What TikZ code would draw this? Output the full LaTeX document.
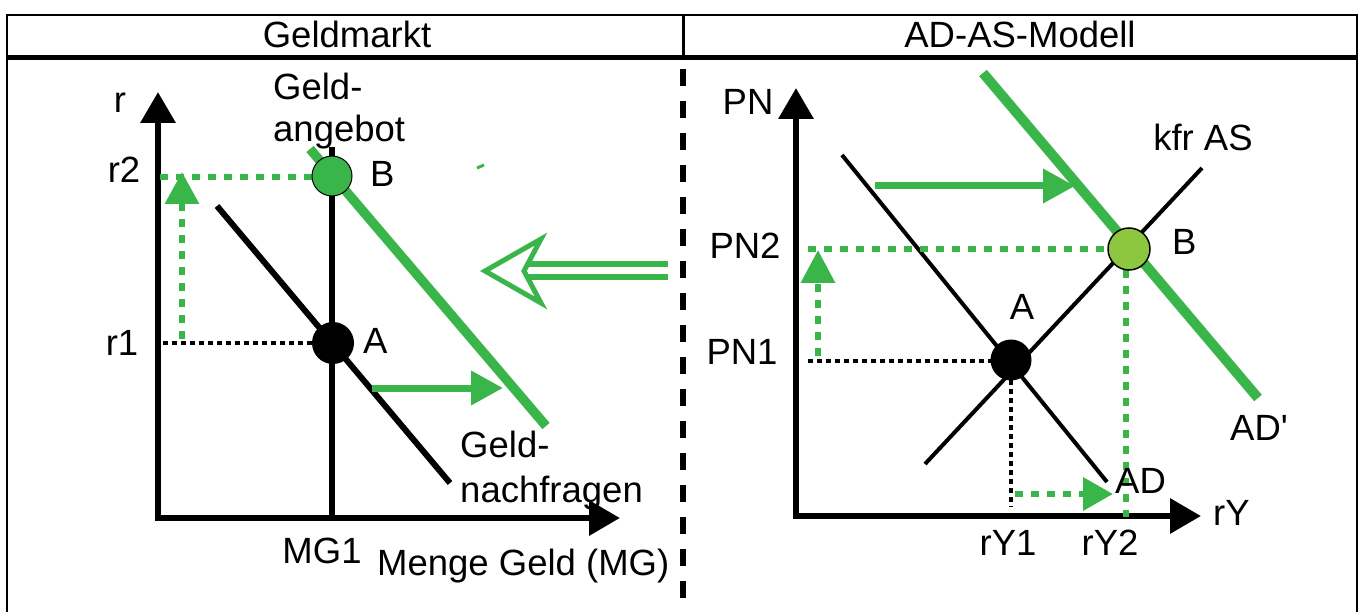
\documentclass[tikz,border=0pt]{standalone}
\usepackage{fontspec}
\setmainfont{Liberation Sans}
\newfontfamily\plainfont{Liberation Sans}
\usetikzlibrary{arrows.meta}
\definecolor{grn}{HTML}{39B54A}
\definecolor{lgrn}{HTML}{8DC63F}
\tikzset{
  lbl/.style={inner sep=0pt, font=\fontsize{36.5}{43}\selectfont},
  axis/.style={line width=6.5pt, -{Triangle[length=31pt,width=34pt]}},
  thickblk/.style={line width=6pt},
  thinblk/.style={line width=4pt},
  grnthick/.style={grn, line width=9.5pt},
  grnarrow/.style={grn, line width=7pt, -{Triangle[length=32pt,width=33pt]}},
  grndash/.style={grn, line width=6.5pt, dash pattern=on 8pt off 8pt},
  blkdot/.style={line width=3.5pt, dash pattern=on 5pt off 4pt},
  frame/.style={line width=2pt},
  dot/.style={circle, inner sep=0pt, minimum size=#1}
}
\begin{document}
\begin{tikzpicture}[x=1pt,y=-1pt]
\useasboundingbox (0,0) rectangle (1362,612);
% frame and header
\draw[frame] (7,612) -- (7,15) -- (1357,15) -- (1357,612);
\draw[line width=3pt] (683,15) -- (683,58);
\draw[line width=5pt] (6,58) -- (1358,58);
\draw[line width=6pt, dash pattern=on 17pt off 15pt, dash phase=21pt] (683,58) -- (683,612);
\node[lbl, anchor=base] (h1) at (347,48) {Geldmarkt};
\node[lbl, anchor=base] (h2) at (1020,48) {AD-AS-Modell};

% ===== Geldmarkt =====
\coordinate (Lo) at (158,518);
\coordinate (Ly) at (158,92);
\coordinate (Lx) at (620,518);
\draw[axis] ([yshift=3pt]Lo) -- (Ly);
\draw[axis] ([xshift=-3pt]Lo) -- (Lx);
% supply
\coordinate (S1) at (332,147);
\coordinate (S0) at (332,518);
\draw[thickblk] (S1) -- (S0);
% demand
\coordinate (D1) at (217,206);
\coordinate (D2) at (450,483);
\draw[thickblk] (D1) -- (D2);
% shifted demand
\coordinate (G1) at (310,149);
\coordinate (G2) at (546,426);
\draw[grnthick] (G1) -- (G2);
% tiny green mark
\coordinate (t1) at (477,168);
\coordinate (t2) at (484,165);
\draw[grn, line width=3pt] (t1) -- (t2);
% level lines
\coordinate (r2a) at (160,177);
\coordinate (r1a) at (163,343);
\coordinate (va) at (182,339);
\coordinate (vb) at (182,172);
\draw[grndash] (r2a) -- (315,177);
\draw[blkdot] (r1a) -- (315,343);
\draw[grndash, -{Triangle[length=32pt,width=33pt]}] (va) -- (vb);
% shift arrow
\coordinate (h1a) at (372,388);
\coordinate (h1b) at (503,388);
\draw[grnarrow] (h1a) -- (h1b);
% points
\node[dot=40pt, fill=grn, draw=black, line width=1pt] (LB) at (332,176) {};
\node[dot=42pt, fill=black] (LA) at (333,343) {};
% labels
\node[lbl, anchor=base] (lr) at (120,113) {r};
\node[lbl, anchor=base] (lr2) at (124,183) {r2};
\node[lbl, anchor=base] (lr1) at (122,355) {r1};
\node[lbl, anchor=base west] (ga1) at (273,100) {Geld-};
\node[lbl, anchor=base west] (ga2) at (273,142) {angebot};
\node[lbl, anchor=base west] (lBl) at (370,187) {B};
\node[lbl, anchor=base west] (lAl) at (363,353) {A};
\node[lbl, anchor=base west] (gn1) at (460,457) {Geld-};
\node[lbl, anchor=base west] (gn2) at (460,502) {nachfragen};
\node[lbl, anchor=base] (mg1) at (322,563) {MG1};
\node[lbl, anchor=base west] (mg) at (377,575) {Menge Geld (MG)};

% ===== middle hollow arrow =====
\draw[grn, line width=6.5pt] (528,264) -- (668,264);
\draw[grn, line width=6.5pt] (528,277) -- (668,277);
\draw[grn, line width=5pt, fill=white, line join=miter] (485,271) -- (541,239) -- (524,271) -- (541,303) -- cycle;

% ===== AD-AS =====
\coordinate (Ro) at (796,516);
\coordinate (Ry) at (796,88);
\coordinate (Rx) at (1201,516);
\draw[axis] ([yshift=3pt]Ro) -- (Ry);
\draw[axis] ([xshift=-3pt]Ro) -- (Rx);
% AD and AS
\coordinate (AD1) at (842,155);
\coordinate (AD2) at (1107,482);
\coordinate (AS1) at (925,464);
\coordinate (AS2) at (1202,168);
\draw[thinblk] (AD1) -- (AD2);
\draw[thinblk] (AS1) -- (AS2);
% AD'
\coordinate (AP1) at (983,73);
\coordinate (AP2) at (1258,398);
\draw[grn, line width=10pt] (AP1) -- (AP2);
% shift arrow
\coordinate (ra1) at (875,186);
\coordinate (ra2) at (1075,186);
\draw[grnarrow] (ra1) -- (ra2);
% level lines
\draw[grndash] (808,249) -- (1110,249);
\draw[blkdot] (808,361) -- (992,361);
\draw[grndash, -{Triangle[length=33pt,width=33pt]}] (818,356) -- (818,250);
\draw[blkdot] (1011,380) -- (1011,507);
\draw[grndash, -{Triangle[length=30pt,width=32pt]}] (1015,494) -- (1113,494);
\draw[grndash] (1126,270) -- (1126,517);
% points
\node[dot=41pt, fill=black] (RA) at (1011,360) {};
\node[dot=42pt, fill=lgrn, draw=black, line width=1.5pt] (RB) at (1129,249) {};
% labels
\node[lbl, anchor=base] (pn) at (748,115) {PN};
\node[lbl, anchor=base] (pn2) at (745,259) {PN2};
\node[lbl, anchor=base] (pn1) at (742,364) {PN1};
\node[lbl, anchor=base] (rAl) at (1022,319) {A};
\node[lbl, anchor=base] (kfr) at (1203,151) {kfr AS};
\node[lbl, anchor=base west] (rBl) at (1172,255) {B};
\node[lbl, anchor=base west] (adp) at (1230,440) {\plainfont AD'};
\node[lbl, anchor=base west] (ad) at (1115,493) {AD};
\node[lbl, anchor=base west] (ry) at (1213,525) {rY};
\node[lbl, anchor=base] (ry1) at (1008,555) {rY1};
\node[lbl, anchor=base] (ry2) at (1110,555) {rY2};
\end{tikzpicture}
\end{document}
